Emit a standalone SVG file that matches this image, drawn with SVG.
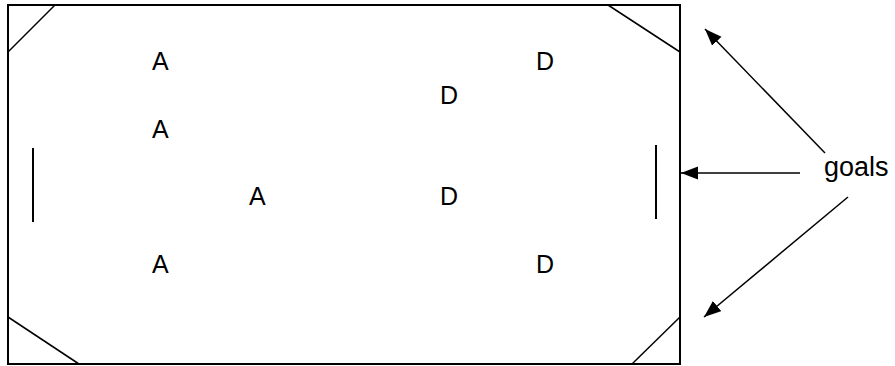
<svg xmlns="http://www.w3.org/2000/svg" width="895" height="366" viewBox="0 0 895 366">
<style>
.t{font-family:"Liberation Sans",Arial,sans-serif;font-size:25px;fill:#000}
.g{font-family:"Liberation Sans",Arial,sans-serif;font-size:27px;fill:#000}
.ln{stroke:#000;stroke-width:1.5;fill:none}
.arr{stroke:#000;stroke-width:1.5;fill:none;marker-end:url(#ah)}
</style>
<defs>
<marker id="ah" markerWidth="18" markerHeight="14" refX="17" refY="6.5" orient="auto" markerUnits="userSpaceOnUse">
<path d="M0,0 L17,6.5 L0,13 Z" fill="#000"/>
</marker>
</defs>
<g id="field">
<rect x="8" y="5" width="672" height="359" fill="#fff" stroke="#000" stroke-width="2"/>
<line class="ln" x1="8" y1="52" x2="55" y2="5"/>
<line class="ln" x1="608" y1="5" x2="680" y2="52"/>
<line class="ln" x1="680" y1="317" x2="632" y2="364"/>
<line class="ln" x1="8" y1="317" x2="79" y2="364"/>
</g>
<g id="goal-left"><line x1="33" y1="148" x2="33" y2="222" stroke="#000" stroke-width="2"/></g>
<g id="goal-right"><line x1="656" y1="145" x2="656" y2="219" stroke="#000" stroke-width="2"/></g>
<g id="players">
<text class="t" x="152" y="70">A</text>
<text class="t" x="152" y="138">A</text>
<text class="t" x="249" y="205">A</text>
<text class="t" x="152" y="273">A</text>
<text class="t" x="536" y="70">D</text>
<text class="t" x="440" y="104">D</text>
<text class="t" x="440" y="205">D</text>
<text class="t" x="536" y="273">D</text>
</g>
<g id="label"><text class="g" x="824" y="176">goals</text></g>
<g id="connectors">
<line class="arr" x1="825" y1="153" x2="705" y2="29"/>
<line class="arr" x1="800" y1="173" x2="681" y2="173"/>
<line class="arr" x1="848" y1="197" x2="704" y2="317"/>
</g>
</svg>
